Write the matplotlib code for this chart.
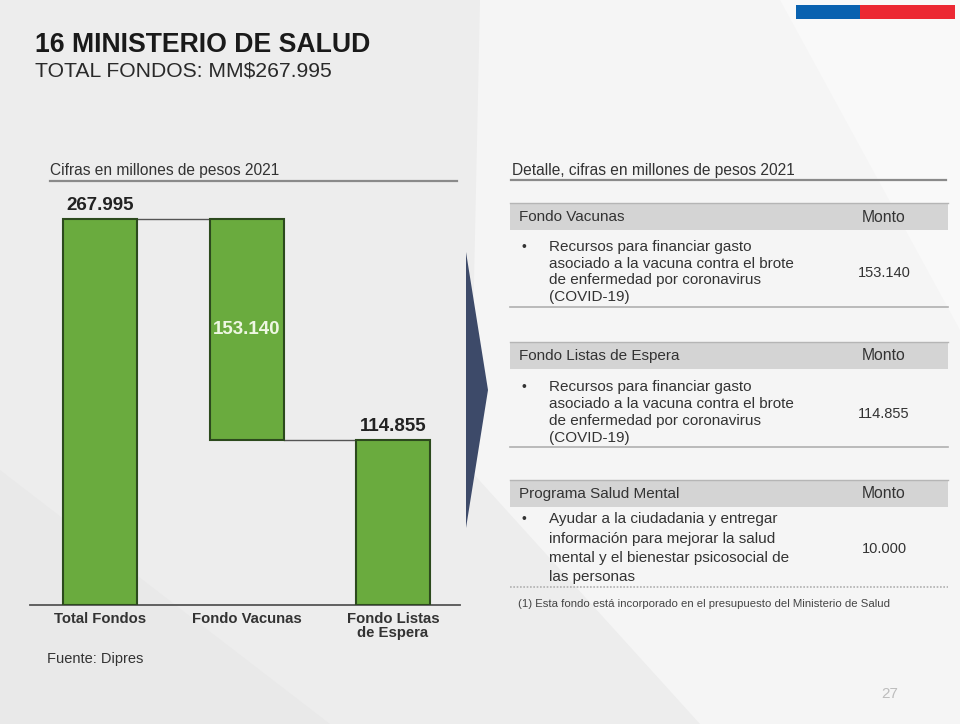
import matplotlib
matplotlib.use("Agg")
import matplotlib.pyplot as plt
from matplotlib.patches import Polygon, Rectangle
from matplotlib.lines import Line2D

plt.rcParams['font.family'] = ['Liberation Sans', 'DejaVu Sans']

# ---- data ----
categories = ["Total Fondos", "Fondo Vacunas", "Fondo Listas\nde Espera"]
total = 267.995
vacunas = 153.140
listas = 114.855
value_labels = ["267.995", "153.140", "114.855"]

table_headers = ["Fondo Vacunas", "Fondo Listas de Espera", "Programa Salud Mental"]
table_desc = [
    ["Recursos para financiar gasto", "asociado a la vacuna contra el brote",
     "de enfermedad por coronavirus", "(COVID-19)"],
    ["Recursos para financiar gasto", "asociado a la vacuna contra el brote",
     "de enfermedad por coronavirus", "(COVID-19)"],
    ["Ayudar a la ciudadania y entregar", "información para mejorar la salud",
     "mental y el bienestar psicosocial de", "las personas"],
]
table_montos = ["153.140", "114.855", "10.000"]

W, H = 960, 724
fig = plt.figure(figsize=(W / 100, H / 100), dpi=100)
fig.patch.set_facecolor("#ededed")

# background / decoration axes in pixel coordinates
bg = fig.add_axes([0, 0, 1, 1])
bg.set_xlim(0, W)
bg.set_ylim(H, 0)
bg.axis("off")
bg.set_zorder(0)

# subtle lighter wedges
bg.add_patch(Polygon([(480, 0), (960, 0), (960, 724), (700, 724), (470, 470)],
                     closed=True, facecolor="#f5f5f5", edgecolor="none"))
bg.add_patch(Polygon([(780, 0), (960, 0), (960, 330)],
                     closed=True, facecolor="#f9f9f9", edgecolor="none"))
bg.add_patch(Polygon([(0, 470), (0, 724), (330, 724)],
                     closed=True, facecolor="#e9e9e9", edgecolor="none"))

# flag bar
bg.add_patch(Rectangle((796, 5), 64, 14, facecolor="#0a62b0", edgecolor="none"))
bg.add_patch(Rectangle((860, 5), 95, 14, facecolor="#ec2833", edgecolor="none"))

# titles
bg.text(35, 45, "16 MINISTERIO DE SALUD", fontsize=19.2, fontweight="bold",
        color="#1a1a1a", va="center", ha="left")
bg.text(35, 71, "TOTAL FONDOS: MM$267.995", fontsize=15.2, color="#2a2a2a",
        va="center", ha="left")

# left header
bg.text(50, 170, "Cifras en millones de pesos 2021", fontsize=11.2, color="#333333",
        va="center", ha="left")
bg.add_line(Line2D([50, 457], [181, 181], color="#8a8a8a", lw=1.6))

# right header
bg.text(512, 170, "Detalle, cifras en millones de pesos 2021", fontsize=11.2,
        color="#333333", va="center", ha="left")
bg.add_line(Line2D([511, 946], [180, 180], color="#8a8a8a", lw=1.6))

# arrow chevron
bg.add_patch(Polygon([(466, 252), (488, 390), (466, 528)], closed=True,
                     facecolor="#3d4a69", edgecolor="none"))

bg.text(47, 659, "Fuente: Dipres", fontsize=10.5, color="#333333", va="center", ha="left")

# tables
band_tops = [203, 342, 480]
first_lines = [247, 387, 519]
spacings = [16.7, 17, 19.5]
bottoms = [307, 447, 587]
for i in range(3):
    t = band_tops[i]
    bg.add_patch(Rectangle((510, t), 438, 27, facecolor="#d4d4d4", edgecolor="none"))
    bg.add_line(Line2D([510, 948], [t, t], color="#b5b5b5", lw=1))
    bg.text(519, t + 14, table_headers[i], fontsize=11, color="#333333",
            va="center", ha="left")
    bg.text(884, t + 14, "Monto", fontsize=11.3, color="#333333", va="center", ha="center")
    ys = [first_lines[i] + k * spacings[i] for k in range(len(table_desc[i]))]
    bg.text(522, ys[0], "•", fontsize=10, color="#333333", va="center", ha="left")
    for y, line in zip(ys, table_desc[i]):
        bg.text(549, y, line, fontsize=11, color="#333333", va="center", ha="left")
    bg.text(884, (ys[0] + ys[-1]) / 2 + 1, table_montos[i], fontsize=10.5,
            color="#333333", va="center", ha="center")
    bg.add_line(Line2D([510, 948], [bottoms[i], bottoms[i]], color="#b0b0b0",
                       lw=1.2, ls=(0, (1, 1)) if i == 2 else "-"))

bg.text(518, 604, "(1) Esta fondo está incorporado en el presupuesto del Ministerio de Salud",
        fontsize=8.2, color="#444444", va="center", ha="left")
bg.text(890, 694, "27", fontsize=11, color="#bdbdbd", va="center", ha="center")

# ---- waterfall chart ----
ax_left, ax_right = 30, 460
base_y, top_y = 605, 190
ax = fig.add_axes([ax_left / W, 1 - base_y / H, (ax_right - ax_left) / W,
                   (base_y - top_y) / H])
ax.set_zorder(2)
ax.patch.set_alpha(0)

unit = 146.5
c0 = 100
ax.set_xlim((ax_left - c0) / unit, (ax_right - c0) / unit)
top_val_px = 219
ax.set_ylim(0, total * (base_y - top_y) / (base_y - top_val_px))

x = [0, 1, 2]
heights = [total, vacunas, listas]
bottoms_bar = [0, total - vacunas, 0]
bw = 74 / unit
green = "#6aab3e"
ax.bar(x, heights, bottom=bottoms_bar, width=bw, color=green,
       edgecolor="#2c4a1d", linewidth=1.5, zorder=3)

# connectors
ax.plot([0 + bw / 2, 1 - bw / 2], [total, total], color="#555555", lw=1, zorder=2)
ax.plot([1 + bw / 2, 2 - bw / 2], [total - vacunas, total - vacunas],
        color="#555555", lw=1, zorder=2)

# value labels
ax.text(0, total + 3.5, value_labels[0], ha="center", va="bottom", fontsize=13.5,
        fontweight="bold", color="#222222")
ax.text(1, total - vacunas / 2, value_labels[1], ha="center", va="center",
        fontsize=13.5, fontweight="bold", color="#eef7e2")
ax.text(2, listas + 3.5, value_labels[2], ha="center", va="bottom", fontsize=13.5,
        fontweight="bold", color="#222222")

for s in ["top", "right", "left"]:
    ax.spines[s].set_visible(False)
ax.spines["bottom"].set_color("#555555")
ax.spines["bottom"].set_linewidth(1.3)
ax.set_yticks([])
ax.set_xticks(x)
ax.set_xticklabels(categories, fontsize=10.7, fontweight="bold", color="#333333",
                   linespacing=1.05)
ax.tick_params(axis="x", length=0, pad=5)

fig.savefig("out.png", dpi=100, facecolor=fig.get_facecolor())
